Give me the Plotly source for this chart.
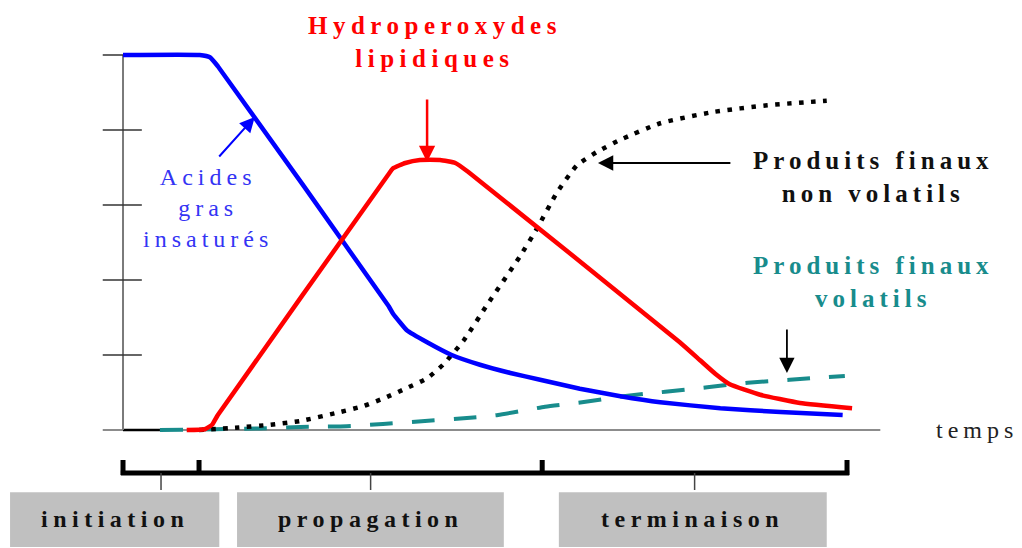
import plotly.graph_objects as go

# ---------------- data (time in % of run, level in arbitrary units 0..5) ----------------
t_acides = [0, 10.6, 12.0, 13.1, 36.7, 37.3, 38.3, 39.2, 42.0, 45.4, 49.3, 53.5, 57.6, 63.1, 68.7, 74.2, 82.5, 90.8, 99.4]
y_acides = [5.0, 5.0, 4.97, 4.85, 1.65, 1.55, 1.43, 1.33, 1.17, 1.00, 0.87, 0.76, 0.67, 0.55, 0.45, 0.37, 0.29, 0.24, 0.20]

t_hydro = [8.8, 11.3, 12.3, 13.1, 36.6, 37.3, 39.0, 41.0, 43.8, 45.9, 47.7, 76.9, 79.7, 81.8, 83.8, 88.0, 93.5, 100.7]
y_hydro = [0.0, 0.01, 0.07, 0.20, 3.40, 3.49, 3.56, 3.60, 3.60, 3.56, 3.44, 1.17, 0.93, 0.75, 0.61, 0.47, 0.36, 0.29]

t_nonvol = [10.5, 15.5, 20.3, 24.5, 30.0, 33.2, 36.2, 39.2, 42.0, 44.2, 47.1, 50.3, 54.8, 57.2, 59.9, 62.7, 65.5, 68.7, 74.2, 81.5, 89.0, 97.2]
y_nonvol = [0.0, 0.03, 0.07, 0.12, 0.24, 0.32, 0.43, 0.56, 0.69, 0.87, 1.20, 1.67, 2.31, 2.69, 3.16, 3.53, 3.71, 3.87, 4.09, 4.24, 4.33, 4.39]

t_vol = [5.1, 12.7, 18.9, 24.5, 30.9, 35.9, 41.7, 47.5, 51.8, 58.3, 63.4, 69.1, 74.9, 80.7, 86.3, 92.1, 99.7]
y_vol = [0.0, 0.01, 0.02, 0.04, 0.05, 0.08, 0.12, 0.16, 0.20, 0.31, 0.37, 0.45, 0.51, 0.57, 0.63, 0.67, 0.72]

y_ticks = [1, 2, 3, 4, 5]

phase_names = ["initiation", "propagation", "terminaison"]
phase_bounds = [0, 10.5, 57.9, 100]
phase_boxes = [(-15.6, 13.3), (15.75, 52.6), (60.2, 97.2)]

# ---------------- styling ----------------
SERIF = "Liberation Serif"
BLUE = "#0000ff"
RED = "#ff0000"
TEAL = "#188c8c"


def spaced(txt, sp):
    return "<br>".join(f'<span style="letter-spacing:{sp}px">{line}</span>' for line in txt.split("\n"))


fig = go.Figure()

fig.add_trace(go.Scatter(x=t_vol, y=y_vol, mode="lines",
                         line=dict(color=TEAL, width=4, dash="23px,19px", shape="spline", smoothing=0.5),
                         hoverinfo="skip"))
fig.add_trace(go.Scatter(x=t_nonvol, y=y_nonvol, mode="lines",
                         line=dict(color="#000000", width=4.5, dash="4.5px,7.5px", shape="spline", smoothing=0.5),
                         hoverinfo="skip"))
fig.add_trace(go.Scatter(x=t_acides, y=y_acides, mode="lines",
                         line=dict(color=BLUE, width=4.5, shape="spline", smoothing=0.4),
                         hoverinfo="skip"))
fig.add_trace(go.Scatter(x=t_hydro, y=y_hydro, mode="lines",
                         line=dict(color=RED, width=4.5, shape="spline", smoothing=0.4),
                         hoverinfo="skip"))

shapes = []
# axes
shapes.append(dict(type="line", xref="x", yref="y", x0=-2.8, x1=104.6, y0=0, y1=0,
                   line=dict(color="#8c8c8c", width=2), layer="below"))
shapes.append(dict(type="line", xref="x", yref="y", x0=0, x1=5.1, y0=0, y1=0,
                   line=dict(color="#000000", width=2.5), layer="below"))
shapes.append(dict(type="line", xref="x", yref="y", x0=0, x1=0, y0=0, y1=5,
                   line=dict(color="#7a7a7a", width=2), layer="below"))
for v in y_ticks:
    shapes.append(dict(type="line", xref="x", yref="y", x0=-2.8, x1=(0 if v == 5 else 2.6), y0=v, y1=v,
                       line=dict(color="#333333", width=1.5), layer="below"))

# phase boxes
for (a, b) in phase_boxes:
    shapes.append(dict(type="rect", xref="x", yref="y", x0=a, x1=b, y0=-1.56, y1=-0.83,
                       fillcolor="#c0c0c0", line=dict(width=0), layer="below"))
# bracket
shapes.append(dict(type="line", xref="x", yref="y", x0=phase_bounds[0] - 0.3, x1=phase_bounds[-1] + 0.3,
                   y0=-0.573, y1=-0.573, line=dict(color="#000000", width=5)))
for b in phase_bounds:
    shapes.append(dict(type="line", xref="x", yref="y", x0=b, x1=b, y0=-0.60, y1=-0.40,
                       line=dict(color="#000000", width=5)))
for i in range(3):
    m = (phase_bounds[i] + phase_bounds[i + 1]) / 2
    shapes.append(dict(type="line", xref="x", yref="y", x0=m, x1=m, y0=-0.573, y1=-0.80,
                       line=dict(color="#444444", width=1.5)))

ann = []
# labels
ann.append(dict(x=43.1, y=5.167, text=spaced("<b>Hydroperoxydes</b>\n<b>lipidiques</b>", 5.5), showarrow=False,
                font=dict(family=SERIF, size=25, color=RED), xanchor="center", yanchor="middle"))
ann.append(dict(x=11.8, y=2.96, text=spaced("Acides\ngras\ninsaturés", 5), showarrow=False,
                font=dict(family=SERIF, size=24, color="#3434f4"), xanchor="center", yanchor="middle"))
ann.append(dict(x=103.6, y=3.38, text=spaced("<b>Produits finaux</b>\n<b>non volatils</b>", 5), showarrow=False,
                font=dict(family=SERIF, size=25, color="#111111"), xanchor="center", yanchor="middle"))
ann.append(dict(x=103.6, y=1.98, text=spaced("<b>Produits finaux</b>\n<b>volatils</b>", 5), showarrow=False,
                font=dict(family=SERIF, size=25, color=TEAL), xanchor="center", yanchor="middle"))
ann.append(dict(x=118.0, y=0.0, text=spaced("temps", 5), showarrow=False,
                font=dict(family=SERIF, size=24, color="#222222"), xanchor="center", yanchor="middle"))
for name, (a, b) in zip(phase_names, phase_boxes):
    ann.append(dict(x=(a + b) / 2, y=-1.187, text=spaced(f"<b>{name}</b>", 5.5), showarrow=False,
                    font=dict(family=SERIF, size=24, color="#111111"), xanchor="center", yanchor="middle"))

# arrows
def arrow(x_head, y_head, x_tail, y_tail, color, width, size):
    return dict(x=x_head, y=y_head, ax=x_tail, ay=y_tail, xref="x", yref="y", axref="x", ayref="y",
                text="", showarrow=True, arrowhead=2, arrowsize=size, arrowwidth=width,
                arrowcolor=color, standoff=0, startstandoff=0)

ann.append(arrow(42.0, 3.573, 42.0, 4.427, RED, 2.5, 1.3))
ann.append(arrow(18.2, 4.173, 13.1, 3.627, BLUE, 2, 1.5))
ann.append(arrow(65.6, 3.56, 84.1, 3.56, "#000000", 1.8, 1.7))
ann.append(arrow(91.7, 0.76, 91.7, 1.36, "#000000", 1.8, 1.7))

for a in ann:
    a.setdefault("xref", "x")
    a.setdefault("yref", "y")

fig.update_layout(
    width=1022, height=548, autosize=False,
    margin=dict(l=0, r=0, t=0, b=0, pad=0),
    paper_bgcolor="white", plot_bgcolor="white",
    showlegend=False,
    xaxis=dict(visible=False, range=[-16.99, 124.17], fixedrange=True),
    yaxis=dict(visible=False, range=[-1.5733, 5.7333], fixedrange=True),
    shapes=shapes, annotations=ann,
)

fig.write_html("out.html", config={"displayModeBar": False},
               post_script="document.body.style.margin='0';document.body.style.overflow='hidden';")
